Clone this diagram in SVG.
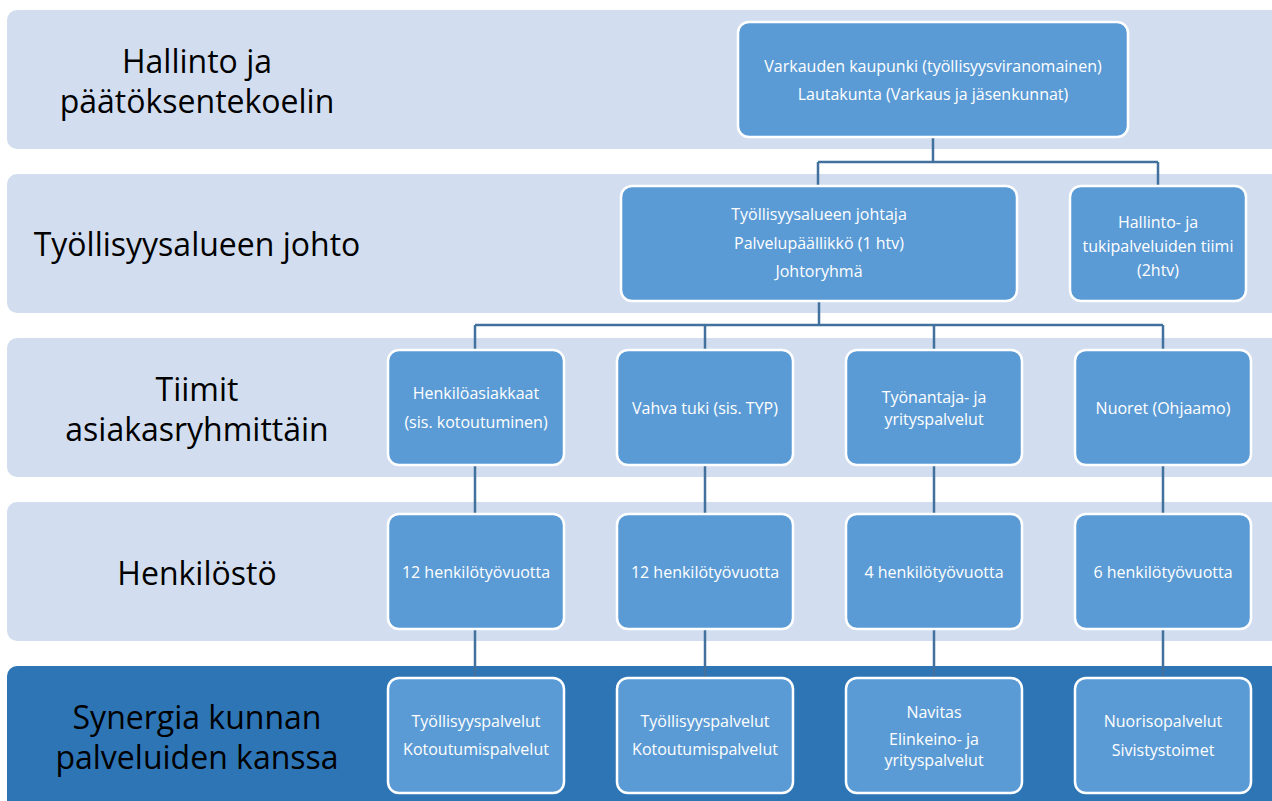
<svg xmlns="http://www.w3.org/2000/svg" width="1272" height="801" viewBox="0 0 1272 801">
<style>
.band{fill:#D2DEEF}
.band5{fill:#2E75B6}
.node rect{fill:#5B9BD5;stroke:#FFFFFF;stroke-width:2.5}
.node text{fill:#FFFFFF;font-family:"Open Sans","Liberation Sans",Arial,sans-serif;font-size:16px;text-anchor:middle;dominant-baseline:central}
.lbl{fill:#000000;font-family:"Open Sans","Liberation Sans",Arial,sans-serif;font-size:32px;text-anchor:middle;dominant-baseline:central}
.conn{fill:none;stroke:#41719C;stroke-width:2.5}
</style>
<rect width="1272" height="801" fill="#FFFFFF"/>
<g id="bands">
<rect class="band" x="7" y="10" width="1275" height="139" rx="10"/>
<rect class="band" x="7" y="174" width="1275" height="139" rx="10"/>
<rect class="band" x="7" y="338" width="1275" height="139" rx="10"/>
<rect class="band" x="7" y="502" width="1275" height="139" rx="10"/>
<rect class="band5" x="7" y="666" width="1275" height="145" rx="10"/>
<text class="lbl" x="197" y="60">Hallinto ja</text>
<text class="lbl" x="197" y="100">päätöksentekoelin</text>
<text class="lbl" x="197" y="243">Työllisyysalueen johto</text>
<text class="lbl" x="197" y="388">Tiimit</text>
<text class="lbl" x="197" y="428">asiakasryhmittäin</text>
<text class="lbl" x="197" y="572">Henkilöstö</text>
<text class="lbl" x="197" y="716">Synergia kunnan</text>
<text class="lbl" x="197" y="756">palveluiden kanssa</text>
</g>
<g id="connectors">
<path class="conn" d="M933 138V162M818 162H1158M818 162V186M1158 162V186"/>
<path class="conn" d="M819 301V325M475 325H1163M475 325V350M705 325V350M934 325V350M1163 325V350"/>
<path class="conn" d="M475 465V514M705 465V514M934 465V514M1163 465V514"/>
<path class="conn" d="M475 629V678M705 629V678M934 629V678M1163 629V678"/>
</g>
<g id="n-varkaus" class="node"><rect x="738" y="22" width="390" height="115" rx="11"/>
<text x="933" y="66">Varkauden kaupunki (työllisyysviranomainen)</text>
<text x="933" y="94">Lautakunta (Varkaus ja jäsenkunnat)</text></g>
<g id="n-johtaja" class="node"><rect x="621" y="186" width="396" height="115" rx="11"/>
<text x="819" y="214">Työllisyysalueen johtaja</text>
<text x="819" y="243">Palvelupäällikkö (1 htv)</text>
<text x="819" y="271">Johtoryhmä</text></g>
<g id="n-hallinto" class="node"><rect x="1070" y="186" width="176" height="115" rx="11"/>
<text x="1158" y="222">Hallinto- ja</text>
<text x="1158" y="246">tukipalveluiden tiimi</text>
<text x="1158" y="270">(2htv)</text></g>
<g id="n-henkilo" class="node"><rect x="388" y="350" width="176" height="115" rx="11"/>
<text x="476" y="393">Henkilöasiakkaat</text>
<text x="476" y="422">(sis. kotoutuminen)</text></g>
<g id="n-vahva" class="node"><rect x="617" y="350" width="176" height="115" rx="11"/>
<text x="705" y="408">Vahva tuki (sis. TYP)</text></g>
<g id="n-tyonantaja" class="node"><rect x="846" y="350" width="176" height="115" rx="11"/>
<text x="934" y="397">Työnantaja- ja</text>
<text x="934" y="419">yrityspalvelut</text></g>
<g id="n-nuoret" class="node"><rect x="1075" y="350" width="176" height="115" rx="11"/>
<text x="1163" y="408">Nuoret (Ohjaamo)</text></g>
<g id="n-htv1" class="node"><rect x="388" y="514" width="176" height="115" rx="11"/>
<text x="476" y="572">12 henkilötyövuotta</text></g>
<g id="n-htv2" class="node"><rect x="617" y="514" width="176" height="115" rx="11"/>
<text x="705" y="572">12 henkilötyövuotta</text></g>
<g id="n-htv3" class="node"><rect x="846" y="514" width="176" height="115" rx="11"/>
<text x="934" y="572">4 henkilötyövuotta</text></g>
<g id="n-htv4" class="node"><rect x="1075" y="514" width="176" height="115" rx="11"/>
<text x="1163" y="572">6 henkilötyövuotta</text></g>
<g id="n-syn1" class="node"><rect x="388" y="678" width="176" height="115" rx="11"/>
<text x="476" y="721">Työllisyyspalvelut</text>
<text x="476" y="749">Kotoutumispalvelut</text></g>
<g id="n-syn2" class="node"><rect x="617" y="678" width="176" height="115" rx="11"/>
<text x="705" y="721">Työllisyyspalvelut</text>
<text x="705" y="749">Kotoutumispalvelut</text></g>
<g id="n-syn3" class="node"><rect x="846" y="678" width="176" height="115" rx="11"/>
<text x="934" y="712">Navitas</text>
<text x="934" y="739">Elinkeino- ja</text>
<text x="934" y="760">yrityspalvelut</text></g>
<g id="n-syn4" class="node"><rect x="1075" y="678" width="176" height="115" rx="11"/>
<text x="1163" y="721">Nuorisopalvelut</text>
<text x="1163" y="750">Sivistystoimet</text></g>
</svg>
